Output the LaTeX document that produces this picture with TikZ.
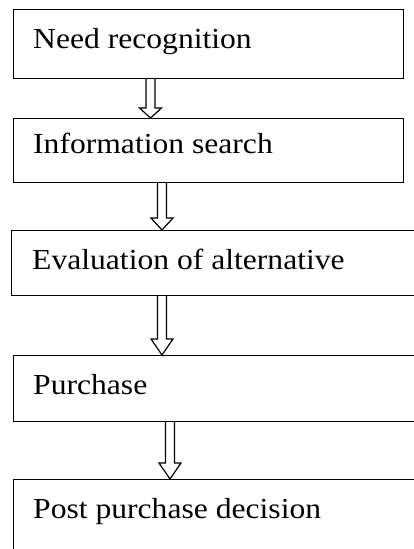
\documentclass[tikz,border=0pt]{standalone}
\usepackage{fontspec}
\setmainfont{Liberation Serif}
\usetikzlibrary{calc}
\tikzset{
  box/.style={draw, line width=1.2pt, rectangle, inner sep=0pt, anchor=north west},
  lbl/.style={anchor=base west, inner sep=0pt, font=\fontsize{29}{33}\selectfont},
  arrline/.style={draw, line width=1.2pt, fill=white, line join=miter}
}
\newcommand\hollowarr[5]{%
  \draw[arrline] (#3-#5,0 |- #1.south) -- ($(#3,0 |- #2.north)+(-#5,-#4)$) -- ($(#3,0 |- #2.north)+(-11,-#4)$) -- (#3,0 |- #2.north) -- ($(#3,0 |- #2.north)+(11,-#4)$) -- ($(#3,0 |- #2.north)+(#5,-#4)$) -- (#3+#5,0 |- #1.south);}
\newcommand\stretchtext[1]{\scalebox{1.09}[1]{#1}}
\begin{document}
\begin{tikzpicture}[x=1pt,y=-1pt]
\useasboundingbox (0,0) rectangle (414,549);
\fill[white] (0,0) rectangle (414,549);
\clip (0,0) rectangle (414,549);
\node[box, minimum width=390pt, minimum height=69pt] (b1) at (13,9) {};
\node[box, minimum width=390pt, minimum height=64pt] (b2) at (13,118) {};
\node[box, minimum width=420pt, minimum height=65pt] (b3) at (11,230) {};
\node[box, minimum width=420pt, minimum height=66pt] (b4) at (13,355) {};
\node[box, minimum width=420pt, minimum height=100pt] (b5) at (13,479) {};
\node[lbl] (t1) at (33,48.5) {\stretchtext{Need recognition}};
\node[lbl] (t2) at (33,153) {\stretchtext{Information search}};
\node[lbl] (t3) at (32,269) {\stretchtext{Evaluation of alternative}};
\node[lbl] (t4) at (33,394.5) {\stretchtext{Purchase}};
\node[lbl] (t5) at (33,518) {\stretchtext{Post purchase decision}};
\hollowarr{b1}{b2}{150.5}{10}{4.5}
\hollowarr{b2}{b3}{162}{12}{4.5}
\hollowarr{b3}{b4}{162}{16}{4.5}
\hollowarr{b4}{b5}{170}{16}{4.5}
\end{tikzpicture}
\end{document}
